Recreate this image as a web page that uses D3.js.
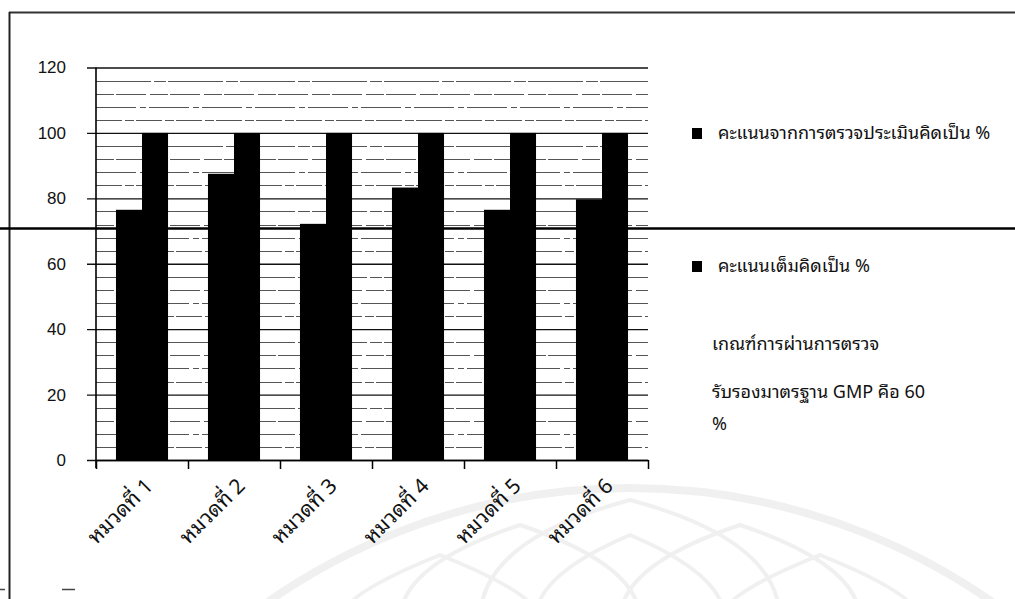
<!DOCTYPE html>
<html>
<head>
<meta charset="utf-8">
<script src="https://cdn.jsdelivr.net/npm/d3@7"></script>
<style>
  html, body { margin: 0; padding: 0; background: #fff; }
  svg { display: block; }
  .thai { font-family: "Noto Sans Thai Looped", "Loma", "Garuda", "Noto Sans Thai", "Noto Sans", "DejaVu Sans", sans-serif; }
  .num { font-family: "Liberation Sans", Arial, sans-serif; }
</style>
</head>
<body>
<svg id="chart" width="1015" height="599"></svg>
<script>
// Categories (inspection sections) and the two series
const categories = ["หมวดที่ 1", "หมวดที่ 2", "หมวดที่ 3", "หมวดที่ 4", "หมวดที่ 5", "หมวดที่ 6"];
const assessedScores = [76.5, 87.5, 72.2, 83.3, 76.5, 79.7];
const fullScores = [100, 100, 100, 100, 100, 100];
const seriesNames = ["คะแนนจากการตรวจประเมินคิดเป็น %", "คะแนนเต็มคิดเป็น %"];
const yTicks = [0, 20, 40, 60, 80, 100, 120];
const noteLines = ["เกณฑ์การผ่านการตรวจ", "รับรองมาตรฐาน GMP คือ 60", "%"];

const svg = d3.select("#chart");

// Scales
const plot = { left: 96, right: 648, top: 67.5, bottom: 460 };
const x = d3.scaleBand().domain(categories).range([plot.left, plot.right]).padding(0);
const bw = x.bandwidth();
const xs = d3.scaleBand().domain([0, 1]).range([bw * 0.217, bw * 0.783]).padding(0);
const y = d3.scaleLinear().domain([0, 120]).range([plot.bottom, plot.top]);

// Faint background emblem
const emblem = svg.append("g").attr("fill", "none").attr("stroke", "#f0f0f0");
emblem.append("circle").attr("cx", 630).attr("cy", 1120).attr("r", 632).attr("stroke-width", 8);
const petals = [[630, 500, 150], [520, 525, 120], [740, 525, 120], [440, 555, 100], [820, 555, 100], [630, 535, 95]];
petals.forEach(([cx, top, hw]) => {
  emblem.append("path")
    .attr("stroke-width", 4)
    .attr("d", `M${cx - hw},620 Q${cx - hw},${top + 40} ${cx},${top} Q${cx + hw},${top + 40} ${cx + hw},620`);
});

// Minor gridlines every 4 units
const minor = d3.range(4, 120, 4).filter(v => v % 20 !== 0);
svg.append("g").selectAll("line").data(minor).join("line")
  .attr("x1", plot.left).attr("x2", plot.right)
  .attr("y1", d => Math.round(y(d)) + 0.5).attr("y2", d => Math.round(y(d)) + 0.5)
  .attr("stroke", "#555").attr("stroke-width", 1)
  .attr("stroke-dasharray", (d, i) => ["26 3 9 2", "40 4 6 3", "18 2 30 4", "55 3 12 2"][i % 4]);

// Major gridlines + y axis
const yAxis = d3.axisLeft(y).tickValues(yTicks).tickSize(plot.right - plot.left + 9).tickPadding(20).tickFormat(d3.format("d"));
const gy = svg.append("g").attr("transform", `translate(${plot.right},0)`).call(yAxis);
gy.select(".domain").remove();
gy.selectAll(".tick line").attr("stroke", "#111").attr("stroke-width", 1.3);
gy.selectAll(".tick text").attr("class", "num").attr("font-size", 17).attr("fill", "#111")
  .attr("x", -(plot.right - 66));

// Bars
const groups = svg.append("g").selectAll("g").data(categories).join("g")
  .attr("transform", d => `translate(${x(d)},0)`);
groups.append("rect")
  .attr("x", xs(0)).attr("width", xs.bandwidth())
  .attr("y", (d, i) => y(assessedScores[i])).attr("height", (d, i) => y(0) - y(assessedScores[i]))
  .attr("fill", "#000");
groups.append("rect")
  .attr("x", xs(1)).attr("width", xs.bandwidth())
  .attr("y", (d, i) => y(fullScores[i])).attr("height", (d, i) => y(0) - y(fullScores[i]))
  .attr("fill", "#000");

// Vertical axis line
svg.append("line").attr("x1", plot.left).attr("x2", plot.left)
  .attr("y1", y(120)).attr("y2", y(0) + 8).attr("stroke", "#000").attr("stroke-width", 1.6);

// X axis with ticks between categories
const xEdges = d3.scaleLinear().domain([0, categories.length]).range([plot.left, plot.right]);
const gx = svg.append("g").attr("transform", `translate(0,${plot.bottom})`)
  .call(d3.axisBottom(xEdges).ticks(categories.length).tickSize(9).tickSizeOuter(0).tickFormat(""));
gx.select(".domain").attr("stroke", "#000").attr("stroke-width", 1.5);
gx.selectAll(".tick line").attr("stroke", "#000").attr("stroke-width", 1.5);

// Rotated category labels
svg.append("g").selectAll("text").data(categories).join("text")
  .attr("class", "thai")
  .attr("transform", d => `translate(${x(d) + bw / 2 + 7},${plot.bottom + 22}) rotate(-45)`)
  .attr("text-anchor", "end").attr("dy", "0.35em")
  .attr("font-size", 21).attr("fill", "#111")
  .text(d => d);

// Legend
const legendY = [133, 266];
const legend = svg.append("g").selectAll("g").data(seriesNames).join("g")
  .attr("transform", (d, i) => `translate(692,${legendY[i]})`);
legend.append("rect").attr("x", 0).attr("y", -5).attr("width", 10).attr("height", 11).attr("fill", "#000");
legend.append("text").attr("class", "thai").attr("x", 26).attr("dy", "0.35em")
  .attr("font-size", 18).attr("fill", "#111").text(d => d);

// Pass-criterion note
svg.append("g").selectAll("text").data(noteLines).join("text")
  .attr("class", "thai")
  .attr("x", 712).attr("y", (d, i) => [350, 398, 430][i])
  .attr("font-size", 18).attr("fill", "#111")
  .text(d => d);

// Page rules
svg.append("line").attr("x1", 9).attr("x2", 1015).attr("y1", 12.5).attr("y2", 12.5).attr("stroke", "#333").attr("stroke-width", 2);
svg.append("line").attr("x1", 9.5).attr("x2", 9.5).attr("y1", 12).attr("y2", 599).attr("stroke", "#222").attr("stroke-width", 2);
svg.append("line").attr("x1", 0).attr("x2", 1015).attr("y1", 228.5).attr("y2", 228.5).attr("stroke", "#000").attr("stroke-width", 2.5);
svg.append("line").attr("x1", 62).attr("x2", 75).attr("y1", 589.5).attr("y2", 589.5).attr("stroke", "#444").attr("stroke-width", 1.5);
svg.append("line").attr("x1", 0).attr("x2", 5).attr("y1", 589.5).attr("y2", 589.5).attr("stroke", "#444").attr("stroke-width", 1.5);
</script>
</body>
</html>
